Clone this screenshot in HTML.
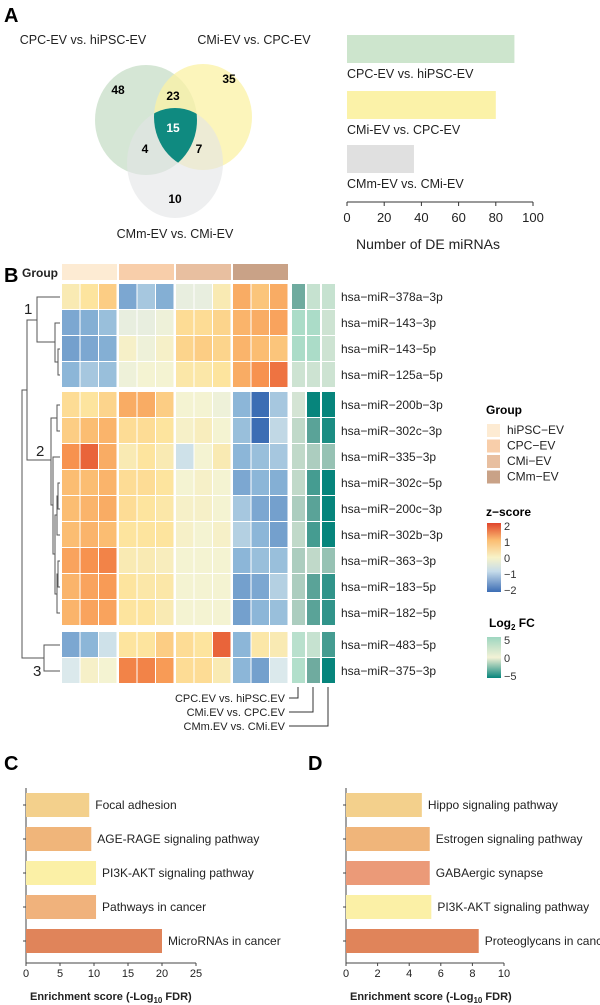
<!DOCTYPE html>
<html><head><meta charset="utf-8"><style>
body{margin:0;background:#fff}
svg{display:block;font-family:"Liberation Sans",Arial,sans-serif}
</style></head><body>
<svg id="fig" width="600" height="1005" viewBox="0 0 600 1005">
<defs>
<clipPath id="cg"><ellipse cx="146" cy="120" rx="51" ry="55"/></clipPath>
<clipPath id="cy"><ellipse cx="203" cy="117" rx="49" ry="53"/></clipPath>
<linearGradient id="zgrad" x1="0" y1="0" x2="0" y2="1">
<stop offset="0" stop-color="#e0452c"/><stop offset="0.25" stop-color="#fbbd72"/><stop offset="0.5" stop-color="#f8f3c8"/><stop offset="0.7" stop-color="#c6dcea"/><stop offset="1" stop-color="#3c6db4"/></linearGradient>
<linearGradient id="fcgrad" x1="0" y1="0" x2="0" y2="1">
<stop offset="0" stop-color="#9ed6c0"/><stop offset="0.5" stop-color="#f3f2d6"/><stop offset="1" stop-color="#07857c"/></linearGradient>
</defs>
<text x="4" y="22" font-size="20" font-weight="bold">A</text>
<g>
<ellipse cx="146" cy="120" rx="51" ry="55" fill="#c7ddc7" opacity="0.75"/>
<ellipse cx="203" cy="117" rx="49" ry="53" fill="#fbf1a4" opacity="0.75"/>
<ellipse cx="175" cy="163" rx="48" ry="55" fill="#e2e4e6" opacity="0.6"/>
<g clip-path="url(#cg)"><g clip-path="url(#cy)"><ellipse cx="175" cy="163" rx="48" ry="55" fill="#0f8a80"/></g></g>
<g font-size="12" font-weight="bold" text-anchor="middle">
<text x="118" y="94">48</text><text x="173" y="100">23</text><text x="229" y="83">35</text>
<text x="173" y="132" fill="#fff">15</text><text x="145" y="153">4</text><text x="199" y="153">7</text><text x="175" y="203">10</text></g>
<g font-size="12.5" text-anchor="middle" fill="#222">
<text x="83" y="44">CPC-EV vs. hiPSC-EV</text>
<text x="254" y="44">CMi-EV vs. CPC-EV</text>
<text x="175" y="238">CMm-EV vs. CMi-EV</text></g>
</g>
<g id="barA"></g>
<text x="4" y="282" font-size="20" font-weight="bold">B</text>
<g id="heat"></g>
<g id="dendro" fill="none" stroke="#555" stroke-width="1">
<path d="M60,349H58V375H60M60,323H55V362H58M60,297H37V342H55"/>
<path d="M60,405H57V431H60M60,483H58V509H60M60,535H57V496H58M60,561H58V587H60M60,613H57V574H58M57,515H55V594H57M60,457H53V554H55M57,418H51V505H53M60,645H44V671H60M37,320H27V460H51M27,390H22V658H44"/>
</g>
<g font-size="15" fill="#222"><text x="24" y="314">1</text><text x="36" y="456">2</text><text x="33" y="676">3</text></g>
<g id="legend">
<text x="486" y="414" font-size="12" font-weight="bold">Group</text>
<text x="486" y="516" font-size="12" font-weight="bold">z−score</text>
<rect x="487" y="523" width="14" height="69" fill="url(#zgrad)"/>
<g font-size="11" fill="#333"><text x="504" y="530">2</text><text x="504" y="546">1</text><text x="504" y="562">0</text><text x="504" y="578">−1</text><text x="504" y="594">−2</text></g>
<text x="489" y="627" font-size="12" font-weight="bold">Log<tspan font-size="8" dy="3">2</tspan><tspan dy="-3"> FC</tspan></text>
<rect x="487" y="637" width="14" height="41" fill="url(#fcgrad)"/>
<g font-size="11" fill="#333"><text x="504" y="644">5</text><text x="504" y="662">0</text><text x="504" y="680">−5</text></g>
</g>
<g font-size="11" fill="#222" text-anchor="end">
<text x="285" y="702">CPC.EV vs. hiPSC.EV</text><text x="285" y="716">CMi.EV vs. CPC.EV</text><text x="285" y="730">CMm.EV vs. CMi.EV</text>
<path d="M289,698H298V687M289,712H313V687M289,726H328V687" fill="none" stroke="#333"/>
</g>
<text x="4" y="770" font-size="20" font-weight="bold">C</text>
<text x="308" y="770" font-size="20" font-weight="bold">D</text>
<g id="barC"></g>
<g id="barD"></g>
</svg>
<script>
const NS='http://www.w3.org/2000/svg';
function mk(p,tag,a,txt){const e=document.createElementNS(NS,tag);for(const k in a)e.setAttribute(k,a[k]);if(txt!==undefined)e.textContent=txt;p.appendChild(e);return e;}

// Panel A bar data
const deComparisons=['CPC-EV vs. hiPSC-EV','CMi-EV vs. CPC-EV','CMm-EV vs. CMi-EV'];
const deCounts=[90,80,36];
const deTicks=[0,20,40,60,80,100];
// Heatmap data
const mirnas=['hsa−miR−378a−3p','hsa−miR−143−3p','hsa−miR−143−5p','hsa−miR−125a−5p','hsa−miR−200b−3p','hsa−miR−302c−3p','hsa−miR−335−3p','hsa−miR−302c−5p','hsa−miR−200c−3p','hsa−miR−302b−3p','hsa−miR−363−3p','hsa−miR−183−5p','hsa−miR−182−5p','hsa−miR−483−5p','hsa−miR−375−3p'];
const groups=['hiPSC−EV','CPC−EV','CMi−EV','CMm−EV'];
const zscores=[
[0.3,0.5,0.8,-1.2,-0.8,-1.1,-0.2,-0.2,0.3,1.2,0.9,1.2],
[-1.2,-1.1,-0.9,-0.2,-0.2,-0.1,0.6,0.6,0.7,1.1,1.2,1.3],
[-1.3,-1.2,-1.1,0.1,-0.1,0.1,0.7,0.8,0.7,1.1,1.0,0.9],
[-1.0,-0.8,-0.9,-0.1,0,0,0.4,0.4,0.5,1.2,1.5,1.7],
[0.6,0.5,0.7,1.2,1.2,0.8,0,0,-0.1,-1.0,-2.0,-0.8],
[0.8,1.0,1.1,0.6,0.6,0.5,0.1,0.2,0,-0.9,-2.0,-0.6],
[1.5,1.8,1.2,0.3,0.5,0.3,-0.5,0,0.3,-1.0,-0.9,-0.8],
[1.0,1.0,1.1,0.6,0.6,0.5,0,0.1,0,-1.2,-1.0,-1.1],
[1.0,1.1,1.2,0.6,0.5,0.4,0.1,0.1,0,-0.8,-1.2,-1.3],
[1.0,1.1,1.0,0.5,0.5,0.5,0.1,0,0.1,-0.7,-1.0,-1.3],
[1.3,1.5,1.6,0.3,0.3,0.2,0,0,0,-1.0,-0.9,-0.9],
[1.1,1.3,1.4,0.5,0.4,0.4,0,0,0,-1.3,-1.2,-0.7],
[1.1,1.3,1.3,0.5,0.5,0.3,0,0,0,-1.3,-1.0,-0.9],
[-1.2,-1.0,-0.5,0.5,0.5,0.8,0.6,0.5,1.8,-1.0,0.4,0.3],
[-0.4,0.1,0,1.6,1.6,1.4,0.6,0.6,0.3,-1.0,-1.3,-0.4]];
const log2fc=[[-2.5,1,1],[3,3,0.5],[3,3,0.5],[0.5,0.5,0.5],[0,-5,-5],[-0.5,-3,-4.5],[-0.5,-1,-1.5],[-0.5,-3.5,-5],[-1,-3,-5],[-0.5,-3.5,-5],[-1,-0.5,-1.5],[-1,-3,-4],[-1,-3,-4],[2,1,-3.5],[2.5,-2.5,-5]];
// Panel C / D data
const cPathways=['Focal adhesion','AGE-RAGE signaling pathway','PI3K-AKT signaling pathway','Pathways in cancer','MicroRNAs in cancer'];
const cScores=[9.3,9.6,10.3,10.3,20];
const cTicks=[0,5,10,15,20,25];
const dPathways=['Hippo signaling pathway','Estrogen signaling pathway','GABAergic synapse','PI3K-AKT signaling pathway','Proteoglycans in cancer'];
const dScores=[4.8,5.3,5.3,5.4,8.4];
const dTicks=[0,2,4,6,8,10];

function hex(c){return [1,3,5].map(i=>parseInt(c.substr(i,2),16));}
function interp(stops,v){if(v<=stops[0][0])return stops[0][1];for(let i=1;i<stops.length;i++){if(v<=stops[i][0]){const t=(v-stops[i-1][0])/(stops[i][0]-stops[i-1][0]);const a=hex(stops[i-1][1]),b=hex(stops[i][1]);return 'rgb('+a.map((x,k)=>Math.round(x+(b[k]-x)*t)).join(',')+')';}}return stops[stops.length-1][1];}
const zStops=[[-2,'#3c6db4'],[-1,'#8cb6d8'],[-0.4,'#dbe9ec'],[0,'#f4f3d2'],[0.5,'#fde49e'],[1,'#fbbd72'],[1.5,'#f7924f'],[2,'#e0452c']];
const fcStops=[[-5,'#07857c'],[-2.5,'#6fab9f'],[0,'#d4e4d4'],[2.5,'#b2dfcb'],[5,'#8ed2bd']];

// Panel A bars
(function(){
const g=document.getElementById('barA');
const x0=347,x1=533,xs=v=>x0+(v-0)/(100-0)*(x1-x0);
const barY=[35,91,145];
deCounts.forEach((v,i)=>{
const cols=['#cde5cd','#fbf2a8','#e0e0e0'];
const r=mk(g,'rect',{x:x0,y:barY[i],width:xs(v)-x0,height:28,fill:cols[i]});


const t=mk(g,'text',{x:x0,y:barY[i]+43,'font-size':12.5,fill:'#222'},deComparisons[i]);


});
mk(g,'line',{x1:x0,x2:x1,y1:202,y2:202,stroke:'#333'});
deTicks.forEach(v=>{mk(g,'line',{x1:xs(v),x2:xs(v),y1:202,y2:206,stroke:'#333'});
const t=mk(g,'text',{x:xs(v),y:222,'font-size':13,'text-anchor':'middle',fill:'#222'},v);

});
const tt=mk(g,'text',{x:428,y:249,'font-size':14,'text-anchor':'middle',fill:'#222'},'Number of DE miRNAs');


})();

// Heatmap
(function(){
const g=document.getElementById('heat');
const colX=(k)=>62+Math.floor(k/3)*57+(k%3)*18.5;
const rowY=(i)=>i<4?284+i*26:(i<13?392+(i-4)*26:632+(i-13)*26);
const gcols=['#fdebd3','#f8ceaa','#e8bfa0','#c9a287'];
groups.forEach((n,j)=>{
const r=mk(g,'rect',{x:62+j*57,y:264,width:55,height:16,fill:gcols[j]});


const lr=mk(g,'rect',{x:487,y:424+j*15.5,width:13,height:13,fill:gcols[j]});


const lt=mk(g,'text',{x:507,y:434+j*15.5,'font-size':12,fill:'#222'},n);


});
mk(g,'text',{x:22,y:277,'font-size':12,'font-weight':'bold',fill:'#222'},'Group');
zscores.forEach((row,i)=>{
row.forEach((z,k)=>{
const c=mk(g,'rect',{x:colX(k),y:rowY(i),width:17.5,height:25,fill:interp(zStops,z)});


});
log2fc[i].forEach((v,k)=>{
const c=mk(g,'rect',{x:292+k*15,y:rowY(i),width:13,height:25,fill:interp(fcStops,v)});


});
const t=mk(g,'text',{x:341,y:rowY(i)+17,'font-size':12,fill:'#222'},mirnas[i]);


});
})();

// Panels C, D
function hbar(id,names,vals,ticks,x0,x1,cols){
const g=document.getElementById(id);
const tmax=ticks[ticks.length-1];
const xs=v=>x0+v/tmax*(x1-x0);
const cy=[805,839,873,907,941];
mk(g,'line',{x1:x0,x2:x0,y1:788,y2:963,stroke:'#444'});
mk(g,'line',{x1:x0,x2:x1,y1:963,y2:963,stroke:'#444'});
vals.forEach((v,i)=>{
mk(g,'line',{x1:x0-3,x2:x0,y1:cy[i],y2:cy[i],stroke:'#444'});
const r=mk(g,'rect',{x:x0,y:cy[i]-12,width:xs(v)-x0,height:24,fill:cols[i]});


const t=mk(g,'text',{x:xs(v)+6,y:cy[i]+4,'font-size':12,fill:'#222'},names[i]);


});
ticks.forEach(v=>{mk(g,'line',{x1:xs(v),x2:xs(v),y1:963,y2:966,stroke:'#444'});
const t=mk(g,'text',{x:xs(v),y:977,'font-size':11,'text-anchor':'middle',fill:'#222'},v);

});
const tt=mk(g,'text',{x:x0+4,y:1000,'font-size':11,'font-weight':'bold',fill:'#222'},'Enrichment score (-Log');


mk(tt,'tspan',{'font-size':8,dy:3},'10');
mk(tt,'tspan',{dy:-3},' FDR)');
}
hbar('barC',cPathways,cScores,cTicks,26,196,['#f3d08c','#f0b57a','#fbf0a6','#f0b27c','#e0845a']);
hbar('barD',dPathways,dScores,dTicks,346,504,['#f3d08c','#f0b57a','#eb9a78','#fbf0a6','#e0845a']);
</script>
</body></html>
